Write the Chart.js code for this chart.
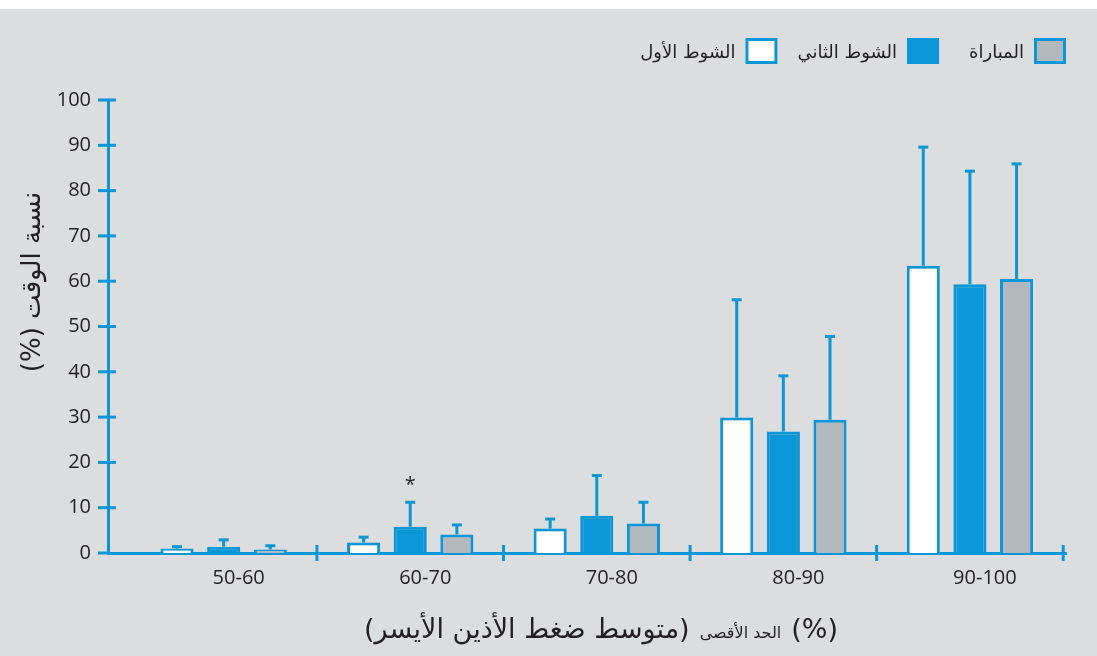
<!DOCTYPE html>
<html>
<head>
<meta charset="utf-8">
<script src="https://cdn.jsdelivr.net/npm/chart.js@4.4.1/dist/chart.umd.min.js"></script>
<style>
html,body{margin:0;padding:0;background:#fff;}
#wrap{position:absolute;left:0;top:0;width:1097px;height:656px;}
</style>
</head>
<body>
<div id="wrap"><canvas id="c" width="1097" height="656"></canvas></div>
<script>
// ---- data ----
const categories = ['50-60', '60-70', '70-80', '80-90', '90-100'];
const seriesNames = ['الشوط الأول', 'الشوط الثاني', 'المباراة'];
const firstHalf = [1.0, 2.3, 5.4, 29.9, 63.4];
const firstHalfSD = [0.4, 1.2, 2.1, 26.0, 26.2];
const secondHalf = [1.4, 5.8, 8.2, 26.8, 59.3];
const secondHalfSD = [1.5, 5.4, 8.9, 12.3, 25.0];
const match = [0.8, 4.1, 6.5, 29.4, 60.5];
const matchSD = [0.8, 2.1, 4.7, 18.4, 25.4];
const yTicks = [0, 10, 20, 30, 40, 50, 60, 70, 80, 90, 100];
const significant = [null, '*', null, null, null]; // marker over second-half bars
const yTitle = 'نسبة الوقت (%)';
const xTitleMain = '(متوسط ضغط الأذين الأيسر)';
const xTitleSub = 'الحد الأقصى';
const xTitleUnit = '(%)';

const BLUE = '#0a97d7';
const GRAY = '#b2b8bb';
const BG = '#dcdddf';
const TEXT = '#231f20';
const NUMFONT = '"Open Sans", "DejaVu Sans", sans-serif';
const ARFONT = '"DejaVu Sans", sans-serif';

function pts(arr){ return arr.map((v,i)=>({x:i, y:v})); }

const datasets = [
  {label: seriesNames[0], data: pts(firstHalf), sd: firstHalfSD, backgroundColor: '#ffffff'},
  {label: seriesNames[1], data: pts(secondHalf), sd: secondHalfSD, backgroundColor: BLUE, marks: significant},
  {label: seriesNames[2], data: pts(match), sd: matchSD, backgroundColor: GRAY}
].map(d => Object.assign(d, {borderColor: BLUE, borderWidth: 3, borderSkipped: 'bottom',
  categoryPercentage: 0.75, barPercentage: 0.71}));

const bgPlugin = {
  id: 'bg',
  beforeDraw(chart){
    const ctx = chart.ctx;
    ctx.save();
    ctx.fillStyle = '#ffffff';
    ctx.fillRect(0,0,chart.width,chart.height);
    ctx.fillStyle = BG;
    ctx.fillRect(0,9,chart.width,chart.height-9);
    ctx.restore();
  }
};

const decoPlugin = {
  id: 'deco',
  afterDraw(chart){
    const ctx = chart.ctx;
    const xs = chart.scales.x, ys = chart.scales.y;
    const area = chart.chartArea;
    ctx.save();
    ctx.strokeStyle = BLUE;
    ctx.lineWidth = 3;
    // y tick marks
    yTicks.forEach(v => {
      const y = ys.getPixelForValue(v);
      ctx.beginPath();
      ctx.moveTo(area.left - 10, y);
      ctx.lineTo(v === 0 ? area.left : area.left + 8, y);
      ctx.stroke();
    });
    // x tick marks at category boundaries
    for (let i = 0; i < categories.length; i++) {
      const x = xs.getPixelForValue(i + 0.5);
      ctx.beginPath();
      ctx.moveTo(x, area.bottom - 8);
      ctx.lineTo(x, area.bottom + 8);
      ctx.stroke();
    }
    // error bars
    chart.data.datasets.forEach((ds, di) => {
      const meta = chart.getDatasetMeta(di);
      meta.data.forEach((el, i) => {
        const top = ys.getPixelForValue(ds.data[i].y + ds.sd[i]);
        ctx.lineWidth = 3;
        ctx.beginPath();
        ctx.moveTo(el.x, el.y);
        ctx.lineTo(el.x, top);
        ctx.stroke();
        ctx.beginPath();
        ctx.moveTo(el.x - 5, top);
        ctx.lineTo(el.x + 5, top);
        ctx.stroke();
        if (ds.marks && ds.marks[i]) {
          ctx.fillStyle = TEXT;
          ctx.font = '20px ' + NUMFONT;
          ctx.textAlign = 'center';
          ctx.textBaseline = 'middle';
          ctx.fillText(ds.marks[i], el.x, top - 17);
        }
      });
    });
    // legend (RTL, right aligned)
    ctx.font = '18px ' + ARFONT;
    ctx.direction = 'rtl';
    ctx.textBaseline = 'middle';
    ctx.textAlign = 'right';
    let right = area.right;
    const ly = 38, bw = 32, bh = 26;
    const itemGaps = [30, 20, 0];
    for (let k = chart.data.datasets.length - 1, n = 0; k >= 0; k--, n++) {
      const ds = chart.data.datasets[k];
      ctx.fillStyle = ds.backgroundColor;
      ctx.fillRect(right - bw, ly, bw, bh);
      ctx.strokeStyle = BLUE; ctx.lineWidth = 3;
      ctx.strokeRect(right - bw + 1.5, ly + 1.5, bw - 3, bh - 3);
      const tx = right - bw - 10;
      ctx.fillStyle = TEXT;
      ctx.fillText(ds.label, tx, ly + bh/2 + 2);
      const w = ctx.measureText(ds.label).width;
      right = tx - w - itemGaps[n];
    }
    // y title
    ctx.save();
    ctx.translate(33, 282);
    ctx.rotate(-Math.PI/2);
    ctx.font = '26px ' + ARFONT;
    ctx.textAlign = 'center';
    ctx.fillText(yTitle, 0, 0);
    ctx.restore();
    // x title: three runs left to right
    const f1 = '27px ' + ARFONT, f2 = '16px ' + ARFONT;
    ctx.font = f1; const w1 = ctx.measureText(xTitleMain).width; const w3 = ctx.measureText(xTitleUnit).width;
    ctx.font = f2; const w2 = ctx.measureText(xTitleSub).width;
    const gap = 10;
    const total = w1 + w2 + w3 + 2*gap;
    let x0 = 601 - total/2;
    const ty = 631;
    ctx.textAlign = 'left';
    ctx.direction = 'ltr';
    ctx.font = f1; ctx.fillText(xTitleMain, x0, ty); x0 += w1 + gap;
    ctx.font = f2; ctx.fillText(xTitleSub, x0, ty + 3); x0 += w2 + gap;
    ctx.font = f1; ctx.fillText(xTitleUnit, x0, ty);
    ctx.restore();
  }
};

new Chart(document.getElementById('c'), {
  type: 'bar',
  data: { datasets },
  options: {
    responsive: false,
    animation: false,
    layout: { padding: { top: 100, right: 31, left: 0, bottom: 0 } },
    plugins: { legend: { display: false }, tooltip: { enabled: false } },
    scales: {
      x: {
        type: 'linear',
        offset: false,
        min: -0.62, max: 4.515,
        afterFit(s){ s.height = 103; },
        afterBuildTicks(s){ s.ticks = categories.map((c,i)=>({value:i})); },
        grid: { display: false, drawTicks: false, offset: false },
        border: { display: true, color: BLUE, width: 3 },
        ticks: {
          autoSkip: false, maxRotation: 0, padding: 13, labelOffset: 15,
          color: TEXT, font: { family: NUMFONT, size: 20 },
          callback: (v) => categories[v] ?? ''
        }
      },
      y: {
        min: 0, max: 100,
        afterFit(s){ s.width = 108; },
        afterBuildTicks(s){ s.ticks = yTicks.map(v=>({value:v})); },
        grid: { display: false, drawTicks: false },
        border: { display: true, color: BLUE, width: 3 },
        ticks: { padding: 17, color: TEXT, font: { family: NUMFONT, size: 20 } }
      }
    }
  },
  plugins: [bgPlugin, decoPlugin]
});
</script>
</body>
</html>
